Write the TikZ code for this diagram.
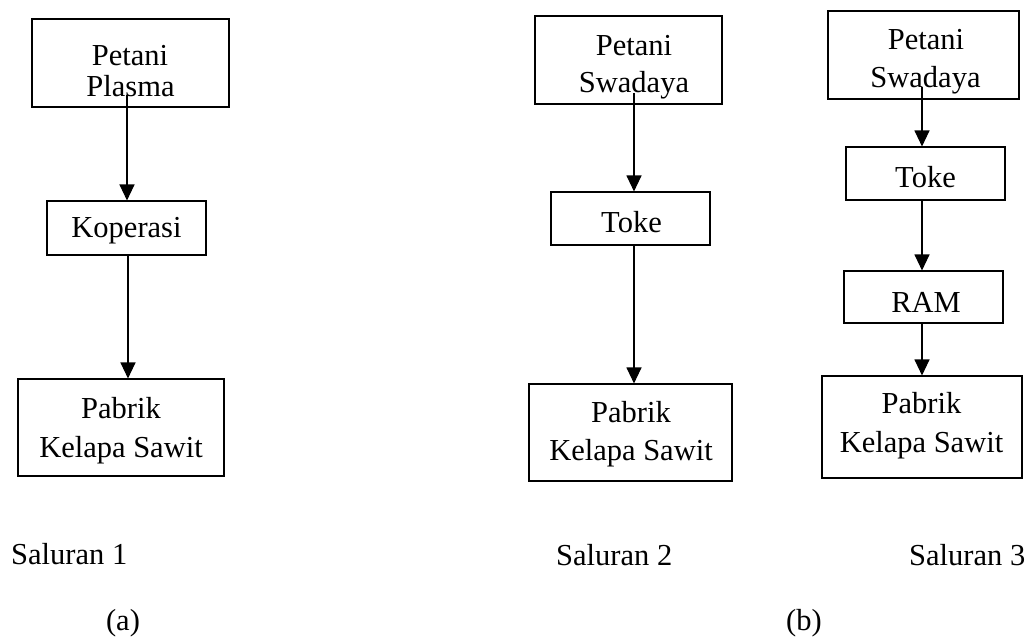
\documentclass[tikz,border=0pt]{standalone}
\usepackage{fontspec}
\setmainfont{Liberation Serif}
\usetikzlibrary{arrows.meta}
\tikzset{
  box/.style={draw=black, line width=1.1pt, inner sep=0pt},
  lbl/.style={anchor=base, inner sep=0pt, font=\fontsize{30.5}{36}\selectfont},
  lblw/.style={anchor=base west, inner sep=0pt, font=\fontsize{30.5}{36}\selectfont},
  flow/.style={draw=black, line width=1.1pt, -{Triangle[length=16pt,width=15pt]}, shorten >=0pt}
}
\begin{document}
\begin{tikzpicture}[x=1pt,y=-1pt]
\useasboundingbox (0,0) rectangle (1031,638);
% column a
\node[box, minimum width=197pt, minimum height=88pt] (a1) at (130.5,63) {};
\node[box, minimum width=159pt, minimum height=54pt] (a2) at (126.5,228) {};
\node[box, minimum width=206pt, minimum height=97pt] (a3) at (121,427.5) {};
\node[lbl] (a1t1) at (130,65) {Petani};
\node[lbl] (a1t2) at (130.5,96) {Plasma};
\node[lbl] (a2t) at (126.5,237) {Koperasi};
\node[lbl] (a3t1) at (121,418) {Pabrik};
\node[lbl] (a3t2) at (121,457) {Kelapa Sawit};
\coordinate (as1) at (127,95);
\coordinate (as2) at (128,255);
\draw[flow] (as1) -- (as1 |- a2.north);
\draw[flow] (as2) -- (as2 |- a3.north);
% column b
\node[box, minimum width=187pt, minimum height=88pt] (b1) at (628.5,60) {};
\node[box, minimum width=159pt, minimum height=53pt] (b2) at (630.5,218.5) {};
\node[box, minimum width=203pt, minimum height=97pt] (b3) at (630.5,432.5) {};
\node[lbl] (b1t1) at (634,55) {Petani};
\node[lbl] (b1t2) at (634,92) {Swadaya};
\node[lbl] (b2t) at (631.5,232) {Toke};
\node[lbl] (b3t1) at (631,422) {Pabrik};
\node[lbl] (b3t2) at (631,460) {Kelapa Sawit};
\coordinate (bs1) at (634,93);
\coordinate (bs2) at (634,245);
\draw[flow] (bs1) -- (bs1 |- b2.north);
\draw[flow] (bs2) -- (bs2 |- b3.north);
% column c
\node[box, minimum width=191pt, minimum height=88pt] (c1) at (923.5,55) {};
\node[box, minimum width=159pt, minimum height=53pt] (c2) at (925.5,173.5) {};
\node[box, minimum width=159pt, minimum height=52pt] (c3) at (923.5,297) {};
\node[box, minimum width=200pt, minimum height=102pt] (c4) at (922,427) {};
\node[lbl] (c1t1) at (926,49) {Petani};
\node[lbl] (c1t2) at (925.5,87) {Swadaya};
\node[lbl] (c2t) at (925.5,187) {Toke};
\node[lbl] (c3t) at (926,312) {RAM};
\node[lbl] (c4t1) at (921.5,413) {Pabrik};
\node[lbl] (c4t2) at (921.5,452) {Kelapa Sawit};
\coordinate (cs1) at (922,87);
\coordinate (cs2) at (922,200);
\coordinate (cs3) at (922,323);
\draw[flow] (cs1) -- (cs1 |- c2.north);
\draw[flow] (cs2) -- (cs2 |- c3.north);
\draw[flow] (cs3) -- (cs3 |- c4.north);
% captions
\node[lblw] (s1) at (11,564) {Saluran 1};
\node[lblw] (s2) at (556,565) {Saluran 2};
\node[lblw] (s3) at (909,565) {Saluran 3};
\node[lbl] (capa) at (123,630) {(a)};
\node[lbl] (capb) at (804,630) {(b)};
\end{tikzpicture}
\end{document}
